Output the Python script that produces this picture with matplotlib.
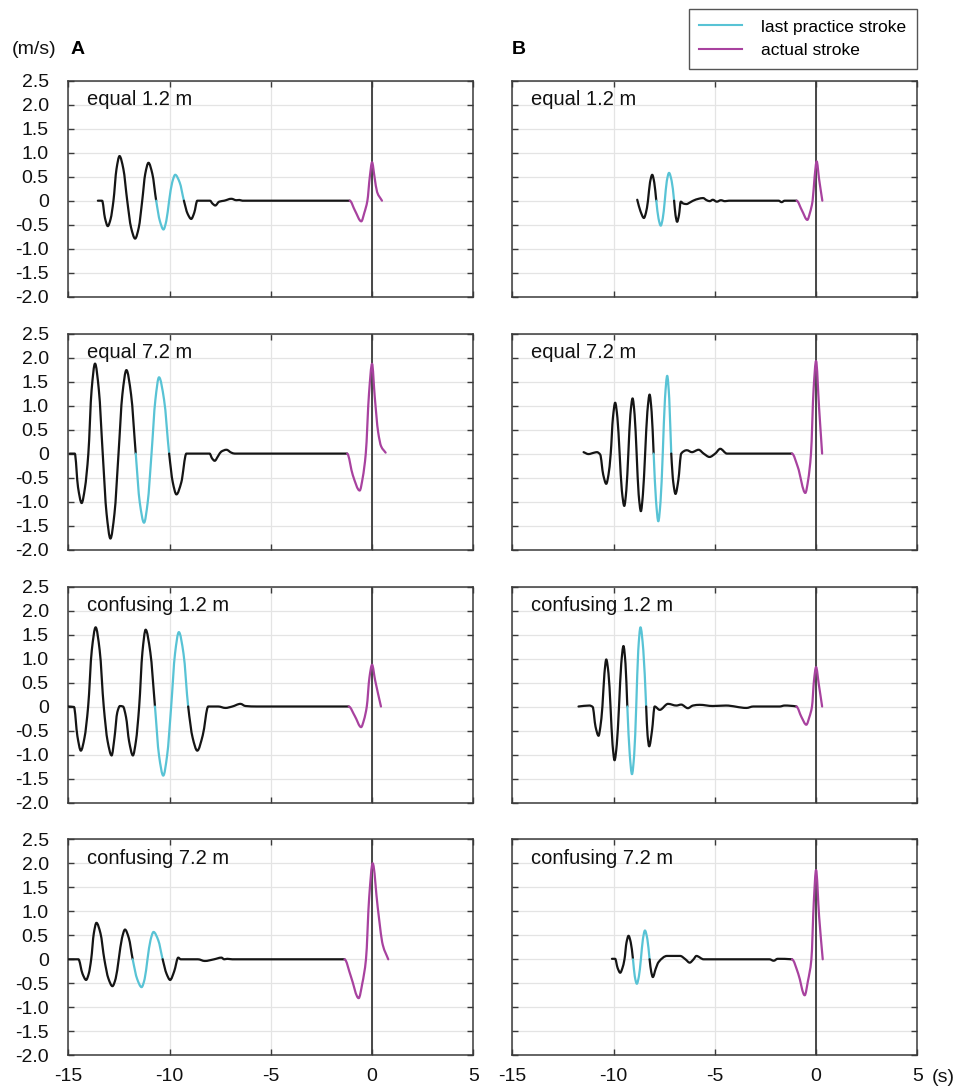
import numpy as np
import matplotlib
matplotlib.use('Agg')
import matplotlib.pyplot as plt
from matplotlib.lines import Line2D
from matplotlib.path import Path
from matplotlib.patches import PathPatch

plt.rcParams['font.family'] = ['Liberation Sans', 'DejaVu Sans']
plt.rcParams['axes.unicode_minus'] = False

# velocity traces (time s, velocity m/s)
a1 = np.array([(-13.54, 0), (-13.33, 0), (-13.19, -0.36), (-13.05, -0.53), (-12.91, -0.38), (-12.77, 0),
               (-12.62, 0.66), (-12.47, 0.93), (-12.28, 0.66), (-12.09, 0), (-11.90, -0.56), (-11.70, -0.79),
               (-11.52, -0.56), (-11.35, 0), (-11.20, 0.56), (-11.04, 0.79), (-10.85, 0.56), (-10.66, 0),
               (-10.48, -0.42), (-10.30, -0.60), (-10.16, -0.42), (-10.02, 0), (-9.87, 0.38), (-9.72, 0.54),
               (-9.50, 0.38), (-9.29, 0), (-9.11, -0.27), (-8.93, -0.38), (-8.78, -0.25), (-8.63, 0),
               (-8.00, 0), (-7.88, -0.06), (-7.74, -0.10), (-7.55, -0.02), (-7.30, 0), (-6.95, 0.04),
               (-6.70, 0.01), (-6.55, 0.015), (-6.40, 0), (-1.10, 0), (-0.85, -0.20), (-0.53, -0.43),
               (-0.38, -0.25), (-0.23, 0), (-0.11, 0.50), (0.00, 0.80), (0.12, 0.50), (0.25, 0.18), (0.49, 0)])
b1 = np.array([(-8.83, 0.02), (-8.67, -0.22), (-8.50, -0.36), (-8.40, -0.25), (-8.30, 0), (-8.20, 0.38),
               (-8.09, 0.54), (-7.99, 0.38), (-7.89, 0), (-7.78, -0.37), (-7.67, -0.52), (-7.57, -0.37),
               (-7.47, 0), (-7.37, 0.41), (-7.26, 0.58), (-7.13, 0.41), (-7.01, 0), (-6.94, -0.30),
               (-6.86, -0.44), (-6.77, -0.30), (-6.68, -0.02), (-6.55, -0.06), (-6.40, -0.07), (-6.20, -0.03),
               (-6.07, 0), (-5.80, 0.04), (-5.58, 0.055), (-5.40, 0.01), (-5.25, -0.01), (-5.10, 0.02),
               (-4.90, -0.02), (-4.70, 0.01), (-4.50, -0.01), (-4.30, 0), (-1.85, 0), (-1.70, -0.03),
               (-1.55, 0), (-0.96, 0), (-0.70, -0.20), (-0.43, -0.40), (-0.30, -0.25), (-0.17, 0),
               (-0.07, 0.50), (0.03, 0.82), (0.15, 0.45), (0.31, 0)])
a2 = np.array([(-14.93, 0), (-14.68, 0), (-14.52, -0.70), (-14.34, -1.03), (-14.18, -0.72), (-14.01, 0),
               (-13.85, 1.32), (-13.68, 1.875), (-13.49, 1.32), (-13.30, 0), (-13.11, -1.25), (-12.92, -1.77),
               (-12.72, -1.25), (-12.52, 0), (-12.33, 1.23), (-12.13, 1.74), (-11.90, 1.23), (-11.67, 0),
               (-11.47, -1.02), (-11.26, -1.44), (-11.08, -1.02), (-10.89, 0), (-10.70, 1.12), (-10.52, 1.59),
               (-10.27, 1.12), (-10.02, 0), (-9.84, -0.60), (-9.66, -0.85), (-9.42, -0.60), (-9.17, 0),
               (-8.02, 0), (-7.90, -0.10), (-7.77, -0.15), (-7.60, -0.05), (-7.45, 0.04), (-7.19, 0.08),
               (-6.95, 0.02), (-6.78, 0), (-1.23, 0), (-0.95, -0.45), (-0.61, -0.77), (-0.46, -0.50),
               (-0.31, 0), (-0.15, 1.25), (0.00, 1.87), (0.13, 1.20), (0.30, 0.45), (0.45, 0.15), (0.67, 0.02)])
b2 = np.array([(-11.48, 0.03), (-11.24, -0.01), (-10.95, 0.02), (-10.82, 0.03), (-10.66, -0.02),
               (-10.51, -0.44), (-10.36, -0.63), (-10.25, -0.44), (-10.14, 0), (-10.03, 0.75), (-9.92, 1.06),
               (-9.81, 0.75), (-9.70, 0), (-9.59, -0.77), (-9.47, -1.09), (-9.37, -0.77), (-9.27, 0),
               (-9.17, 0.81), (-9.06, 1.15), (-8.96, 0.81), (-8.86, 0), (-8.76, -0.85), (-8.65, -1.20),
               (-8.55, -0.85), (-8.44, 0), (-8.33, 0.87), (-8.22, 1.23), (-8.12, 0.87), (-8.02, 0),
               (-7.90, -1.00), (-7.79, -1.41), (-7.68, -1.00), (-7.57, 0), (-7.46, 1.15), (-7.35, 1.62),
               (-7.25, 1.15), (-7.15, 0), (-7.05, -0.60), (-6.94, -0.84), (-6.80, -0.55), (-6.66, 0),
               (-6.38, 0.07), (-6.13, 0.03), (-5.80, 0.08), (-5.55, 0), (-5.26, -0.07), (-4.98, 0),
               (-4.73, 0.10), (-4.40, 0), (-1.19, 0), (-0.90, -0.28), (-0.53, -0.82), (-0.39, -0.55),
               (-0.25, 0), (-0.12, 1.35), (0.00, 1.93), (0.15, 0.95), (0.30, 0)])
a3 = np.array([(-15.0, 0), (-14.72, -0.01), (-14.55, -0.62), (-14.38, -0.92), (-14.20, -0.65), (-14.02, 0),
               (-13.84, 1.17), (-13.65, 1.65), (-13.45, 1.17), (-13.25, 0), (-13.06, -0.72), (-12.86, -1.02),
               (-12.72, -0.65), (-12.58, -0.12), (-12.45, 0.01), (-12.30, 0), (-12.15, -0.22), (-12.00, -0.72),
               (-11.81, -1.02), (-11.66, -0.72), (-11.50, 0), (-11.34, 1.13), (-11.18, 1.60), (-10.95, 1.13),
               (-10.72, 0), (-10.52, -1.02), (-10.31, -1.44), (-10.12, -1.02), (-9.92, 0), (-9.73, 1.10),
               (-9.54, 1.55), (-9.31, 1.10), (-9.08, 0), (-8.86, -0.65), (-8.63, -0.92), (-8.36, -0.60),
               (-8.09, 0), (-7.60, 0), (-7.24, -0.03), (-6.90, 0), (-6.50, 0.055), (-6.25, 0.01), (-5.70, 0),
               (-1.15, 0), (-0.85, -0.20), (-0.54, -0.43), (-0.40, -0.28), (-0.26, 0), (-0.13, 0.60),
               (0.00, 0.87), (0.15, 0.55), (0.44, 0)])
b3 = np.array([(-11.73, 0), (-11.19, 0.02), (-11.03, -0.01), (-10.89, -0.42), (-10.74, -0.61), (-10.65, -0.42),
               (-10.55, 0), (-10.45, 0.69), (-10.36, 0.98), (-10.25, 0.69), (-10.15, 0), (-10.05, -0.79),
               (-9.95, -1.12), (-9.84, -0.79), (-9.73, 0), (-9.62, 0.89), (-9.51, 1.26), (-9.41, 0.89),
               (-9.32, 0), (-9.20, -1.00), (-9.09, -1.41), (-8.98, -1.00), (-8.88, 0), (-8.78, 1.17),
               (-8.67, 1.65), (-8.53, 1.17), (-8.39, 0), (-8.32, -0.60), (-8.24, -0.83), (-8.10, -0.50),
               (-7.97, 0), (-7.72, -0.07), (-7.31, 0.055), (-6.90, 0.02), (-6.66, 0.04), (-6.33, -0.035),
               (-6.08, 0.02), (-5.75, 0.035), (-5.10, 0.01), (-4.45, 0.02), (-3.44, -0.03), (-3.10, 0),
               (-1.80, 0), (-1.55, 0.02), (-0.97, 0), (-0.72, -0.22), (-0.48, -0.38), (-0.33, -0.22),
               (-0.20, 0), (-0.10, 0.55), (0.00, 0.82), (0.14, 0.45), (0.30, 0)])
a4 = np.array([(-14.99, 0), (-14.50, 0), (-14.30, -0.30), (-14.12, -0.43), (-13.99, -0.30), (-13.87, 0),
               (-13.74, 0.54), (-13.61, 0.76), (-13.41, 0.54), (-13.22, 0), (-13.02, -0.40), (-12.82, -0.56),
               (-12.66, -0.40), (-12.51, 0), (-12.35, 0.44), (-12.20, 0.62), (-12.01, 0.44), (-11.82, 0),
               (-11.60, -0.41), (-11.38, -0.58), (-11.23, -0.41), (-11.09, 0), (-10.94, 0.40), (-10.79, 0.57),
               (-10.56, 0.40), (-10.34, 0), (-10.15, -0.30), (-9.97, -0.43), (-9.77, -0.25), (-9.57, 0.035),
               (-9.45, 0), (-8.60, 0), (-8.26, -0.035), (-7.80, 0), (-7.44, 0.035), (-7.30, 0), (-7.15, 0.01),
               (-6.90, 0), (-1.36, 0), (-1.05, -0.35), (-0.66, -0.81), (-0.48, -0.50), (-0.30, 0),
               (-0.14, 1.30), (0.03, 2.00), (0.28, 1.08), (0.53, 0.30), (0.80, 0)])
b4 = np.array([(-10.08, 0.01), (-9.92, 0.01), (-9.80, -0.18), (-9.67, -0.28), (-9.56, -0.18), (-9.46, 0),
               (-9.36, 0.35), (-9.26, 0.49), (-9.15, 0.35), (-9.04, 0), (-8.95, -0.36), (-8.85, -0.51),
               (-8.75, -0.36), (-8.65, 0), (-8.55, 0.42), (-8.45, 0.60), (-8.33, 0.42), (-8.22, 0),
               (-8.14, -0.26), (-8.06, -0.37), (-7.92, -0.20), (-7.78, -0.06), (-7.36, 0.07), (-6.71, 0.07),
               (-6.45, 0), (-6.24, -0.07), (-6.05, 0), (-5.91, 0.07), (-5.55, 0), (-2.30, 0), (-2.09, -0.03),
               (-1.90, 0.01), (-1.19, 0), (-0.88, -0.30), (-0.56, -0.75), (-0.40, -0.45), (-0.23, 0),
               (-0.11, 1.20), (0.00, 1.86), (0.15, 0.90), (0.33, 0)])

# start/end of the last practice stroke and start of the actual stroke
cyan_spans = {'a1': (-10.66, -9.29), 'b1': (-7.89, -7.01), 'a2': (-11.67, -10.02), 'b2': (-8.02, -7.15),
              'a3': (-10.72, -9.08), 'b3': (-9.32, -8.39), 'a4': (-11.82, -10.34), 'b4': (-9.04, -8.22)}
mag_starts = {'a1': -1.10, 'b1': -0.96, 'a2': -1.23, 'b2': -1.19,
              'a3': -1.15, 'b3': -0.97, 'a4': -1.36, 'b4': -1.19}

conditions = ['equal 1.2 m', 'equal 7.2 m', 'confusing 1.2 m', 'confusing 7.2 m']
traces = {'a1': a1, 'a2': a2, 'a3': a3, 'a4': a4, 'b1': b1, 'b2': b2, 'b3': b3, 'b4': b4}

x_ticks = [-15, -10, -5, 0, 5]
y_ticks = [-2.0, -1.5, -1.0, -0.5, 0, 0.5, 1.0, 1.5, 2.0, 2.5]
y_labels = ['-2.0', '-1.5', '-1.0', '-0.5', '0', '0.5', '1.0', '1.5', '2.0', '2.5']

cyan = '#58c3d5'
magenta = '#a8429f'
ink = '#151515'
frame = '#3a3a3a'

W, H = 958, 1088
fig = plt.figure(figsize=(W / 100, H / 100), dpi=100)

col_left = [68.3, 512.3]
row_top = [80.7, 333.6, 586.5, 839.3]
ax_w, ax_h = 405, 216


def slopes(t, v):
    # monotone (Fritsch-Carlson) tangents so the curve stays smooth without overshoot
    h = np.diff(t)
    d = np.diff(v) / h
    m = np.zeros_like(v)
    m[0], m[-1] = d[0], d[-1]
    for k in range(1, len(v) - 1):
        if d[k - 1] * d[k] > 0:
            w1 = 2 * h[k] + h[k - 1]
            w2 = h[k] + 2 * h[k - 1]
            m[k] = (w1 + w2) / (w1 / d[k - 1] + w2 / d[k])
    return m


def smooth_piece(ax, t, v, m, i0, i1, color):
    verts = [(t[i0], v[i0])]
    codes = [Path.MOVETO]
    for k in range(i0, i1):
        h = t[k + 1] - t[k]
        verts += [(t[k] + h / 3, v[k] + m[k] * h / 3),
                  (t[k + 1] - h / 3, v[k + 1] - m[k + 1] * h / 3),
                  (t[k + 1], v[k + 1])]
        codes += [Path.CURVE4] * 3
    ax.add_patch(PathPatch(Path(verts, codes), fill=False, edgecolor=color,
                           lw=1.6, capstyle='round', joinstyle='round', zorder=3))


def draw_trace(ax, data, span, mag):
    t, v = data[:, 0], data[:, 1]
    m = slopes(t, v)
    i_c0 = int(np.argmin(np.abs(t - span[0])))
    i_c1 = int(np.argmin(np.abs(t - span[1])))
    i_m = int(np.argmin(np.abs(t - mag)))
    smooth_piece(ax, t, v, m, 0, i_c0, ink)
    smooth_piece(ax, t, v, m, i_c0, i_c1, cyan)
    smooth_piece(ax, t, v, m, i_c1, i_m, ink)
    smooth_piece(ax, t, v, m, i_m, len(t) - 1, magenta)


for ci, col in enumerate(['a', 'b']):
    for ri in range(4):
        key = f'{col}{ri + 1}'
        rect = [col_left[ci] / W, 1 - (row_top[ri] + ax_h) / H, ax_w / W, ax_h / H]
        ax = fig.add_axes(rect)
        ax.set_xlim(-15, 5)
        ax.set_ylim(-2.0, 2.5)
        ax.set_xticks(x_ticks)
        ax.set_yticks(y_ticks)
        ax.grid(True, color='#e4e4e4', lw=0.9, zorder=0)
        ax.axvline(0, color=frame, lw=1.3, zorder=2)
        draw_trace(ax, traces[key], cyan_spans[key], mag_starts[key])
        for s in ax.spines.values():
            s.set_color(frame)
            s.set_linewidth(1.1)
        ax.tick_params(direction='in', length=4, width=1, color=frame,
                       top=True, right=True, labelsize=14, labelcolor='#111111')
        ax.tick_params(axis='y', pad=14)
        ax.tick_params(axis='x', pad=9)
        if ci == 0:
            ax.set_yticklabels(y_labels)
        else:
            ax.set_yticklabels([])
        if ri < 3:
            ax.set_xticklabels([])
        ax.text(0.047, 0.912, conditions[ri], transform=ax.transAxes,
                fontsize=14.5, va='center', ha='left', color='#111111')

fig.text(12 / W, 1 - 49 / H, '(m/s)', fontsize=14, va='center', ha='left', color='#111111')
fig.text(71 / W, 1 - 49 / H, 'A', fontsize=14, fontweight='bold', va='center', ha='left')
fig.text(512 / W, 1 - 49 / H, 'B', fontsize=14, fontweight='bold', va='center', ha='left')
fig.text(932 / W, 1 - 1077 / H, '(s)', fontsize=14, va='center', ha='left', color='#111111')

handles = [Line2D([], [], color=cyan, lw=1.5), Line2D([], [], color=magenta, lw=1.5)]
leg = fig.legend(handles, ['last practice stroke', 'actual stroke'],
                 loc='upper right', bbox_to_anchor=(917 / W, 1 - 9 / H), borderaxespad=0,
                 fontsize=12.5, handlelength=2.5, handletextpad=1.1, labelspacing=0.5,
                 borderpad=0.6, fancybox=False, framealpha=1, edgecolor='#555555')
leg.get_frame().set_linewidth(1.0)

fig.savefig('out.png', dpi=100)
